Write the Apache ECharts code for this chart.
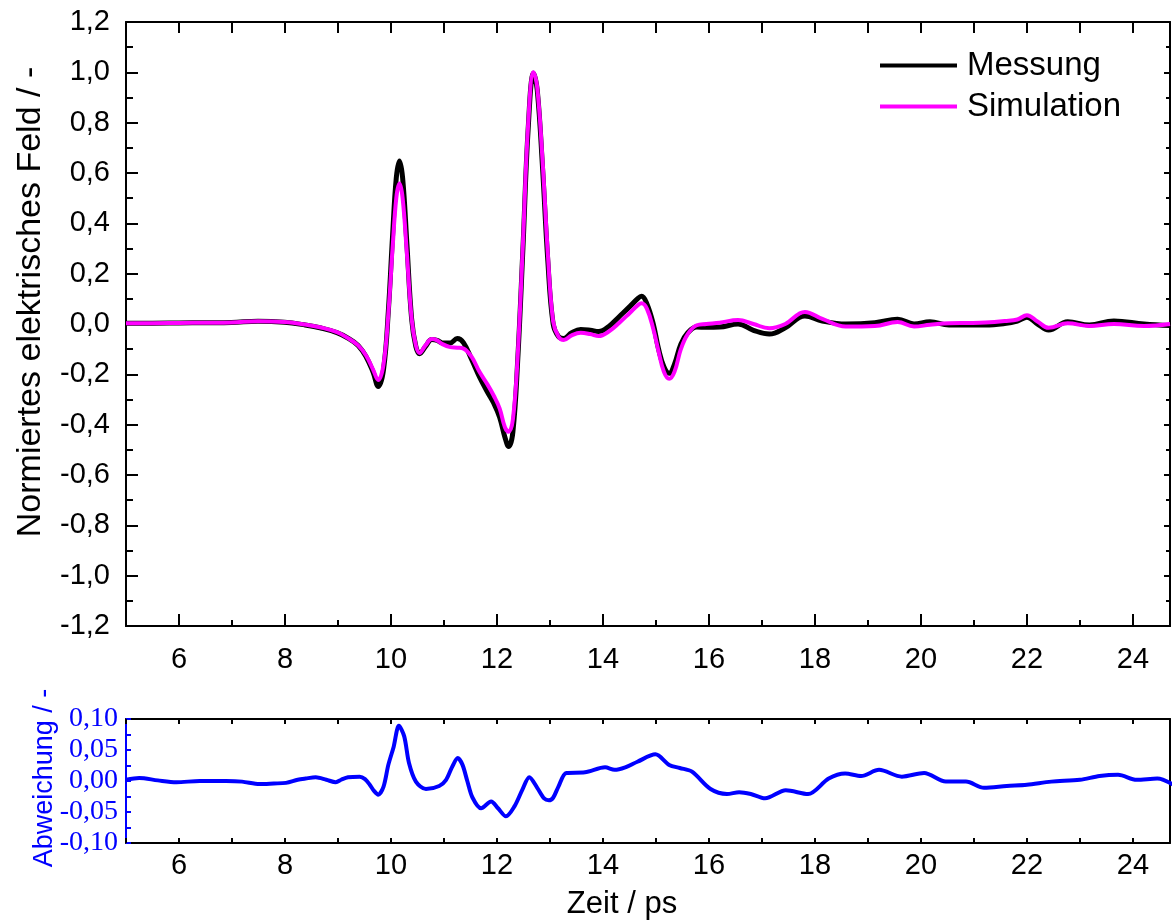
<!DOCTYPE html>
<html>
<head>
<meta charset="utf-8">
<script src="https://cdn.jsdelivr.net/npm/echarts@6/dist/echarts.min.js"></script>
<style>html,body{margin:0;padding:0;background:#fff;}#c{width:1173px;height:920px;}</style>
</head>
<body>
<div id="c"></div>
<script>
// Zeitachse (ps) für Messung und Simulation
var fieldTime = [5.0, 5.5, 6.0, 6.5, 6.99, 7.49, 7.99, 8.38, 8.68, 8.98, 9.18, 9.38, 9.53, 9.66, 9.76, 9.86, 9.95, 10.03, 10.1, 10.16, 10.22, 10.3, 10.39, 10.47, 10.54, 10.65, 10.77, 10.87, 10.97, 11.12, 11.25, 11.37, 11.52, 11.67, 11.82, 11.94, 12.05, 12.15, 12.22, 12.3, 12.39, 12.49, 12.59, 12.69, 12.76, 12.86, 12.96, 13.06, 13.16, 13.26, 13.41, 13.58, 13.76, 13.92, 14.11, 14.31, 14.51, 14.66, 14.73, 14.83, 14.95, 15.05, 15.15, 15.25, 15.35, 15.47, 15.6, 15.77, 15.95, 16.2, 16.55, 16.84, 17.14, 17.44, 17.81, 18.14, 18.58, 19.13, 19.56, 19.87, 20.17, 20.53, 20.92, 21.22, 21.58, 21.82, 22.0, 22.2, 22.41, 22.77, 23.18, 23.64, 24.21, 24.7];
var messung = [0.003, 0.003, 0.004, 0.005, 0.006, 0.011, 0.007, -0.004, -0.016, -0.034, -0.055, -0.085, -0.13, -0.19, -0.248, -0.18, 0.05, 0.35, 0.58, 0.648, 0.58, 0.32, 0.02, -0.09, -0.118, -0.09, -0.062, -0.065, -0.075, -0.075, -0.058, -0.075, -0.14, -0.21, -0.27, -0.315, -0.37, -0.45, -0.487, -0.43, -0.15, 0.3, 0.78, 0.996, 0.93, 0.62, 0.25, 0.0, -0.05, -0.058, -0.035, -0.022, -0.025, -0.03, -0.01, 0.03, 0.07, 0.102, 0.11, 0.08, 0.0, -0.1, -0.17, -0.196, -0.16, -0.08, -0.035, -0.012, -0.013, -0.012, 0.0, -0.025, -0.04, -0.015, 0.032, 0.012, 0.0, 0.005, 0.019, 0.0, 0.009, -0.004, -0.004, -0.004, 0.002, 0.012, 0.027, 0.0, -0.024, 0.009, -0.004, 0.012, 0.0, -0.006];
var simulation = [0.003, 0.003, 0.004, 0.005, 0.006, 0.011, 0.008, -0.002, -0.014, -0.032, -0.055, -0.085, -0.125, -0.18, -0.223, -0.16, 0.04, 0.3, 0.5, 0.558, 0.5, 0.28, 0.02, -0.085, -0.115, -0.085, -0.06, -0.065, -0.08, -0.092, -0.094, -0.098, -0.13, -0.19, -0.24, -0.285, -0.335, -0.41, -0.428, -0.38, -0.13, 0.32, 0.8, 1.0, 0.94, 0.65, 0.28, 0.01, -0.05, -0.064, -0.045, -0.035, -0.04, -0.048, -0.03, 0.005, 0.045, 0.075, 0.082, 0.06, -0.02, -0.11, -0.19, -0.218, -0.19, -0.1, -0.04, -0.005, 0.0, 0.005, 0.016, 0.0, -0.017, 0.0, 0.048, 0.02, -0.01, -0.008, 0.008, -0.01, -0.003, 0.003, 0.004, 0.006, 0.012, 0.018, 0.035, 0.01, -0.015, 0.003, -0.008, 0.0, -0.008, 0.0];

// Abweichung
var devTime = [5.0, 5.25, 5.6, 5.95, 6.39, 6.89, 7.19, 7.52, 7.79, 8.02, 8.24, 8.39, 8.58, 8.78, 8.96, 9.06, 9.19, 9.41, 9.51, 9.6, 9.68, 9.76, 9.86, 9.95, 10.05, 10.15, 10.25, 10.34, 10.47, 10.66, 10.91, 11.04, 11.15, 11.26, 11.35, 11.44, 11.54, 11.7, 11.89, 12.02, 12.17, 12.33, 12.48, 12.61, 12.76, 12.89, 12.98, 13.06, 13.16, 13.31, 13.66, 14.04, 14.22, 14.42, 14.65, 14.99, 15.25, 15.45, 15.68, 16.03, 16.34, 16.57, 16.79, 17.06, 17.45, 17.87, 18.26, 18.57, 18.87, 19.21, 19.64, 20.06, 20.47, 20.85, 21.19, 21.62, 22.0, 22.46, 23.0, 23.37, 23.72, 24.07, 24.46, 24.8];
var abweichung = [0.002, 0.005, 0.001, -0.002, 0.0, 0.0, -0.001, -0.005, -0.004, -0.003, 0.002, 0.004, 0.006, 0.002, -0.002, 0.002, 0.006, 0.007, 0.003, -0.006, -0.016, -0.022, -0.009, 0.026, 0.055, 0.089, 0.072, 0.029, -0.001, -0.013, -0.008, 0.002, 0.022, 0.037, 0.026, 0.0, -0.027, -0.044, -0.033, -0.044, -0.057, -0.041, -0.014, 0.006, -0.011, -0.028, -0.031, -0.027, -0.009, 0.013, 0.014, 0.022, 0.018, 0.022, 0.031, 0.043, 0.026, 0.021, 0.015, -0.013, -0.021, -0.018, -0.021, -0.028, -0.015, -0.021, 0.004, 0.012, 0.008, 0.018, 0.007, 0.013, -0.001, -0.001, -0.011, -0.008, -0.006, -0.001, 0.002, 0.008, 0.01, 0.002, 0.004, -0.008];

var evenTicks = [6, 8, 10, 12, 14, 16, 18, 20, 22, 24];
var oddTicks = [5, 7, 9, 11, 13, 15, 17, 19, 21, 23];
var allTicks = [5, 6, 7, 8, 9, 10, 11, 12, 13, 14, 15, 16, 17, 18, 19, 20, 21, 22, 23, 24];
var X_MIN = 5, X_MAX = 24.7;

function pairs(t, v) { return t.map(function (x, i) { return [x, v[i]]; }); }
var SANS = '"Liberation Sans", Arial, sans-serif';
var SERIF = '"Liberation Serif", "Times New Roman", serif';
var BLUE = '#0000ff';

function xAx(grid, pos, ticks, len, labels, margin) {
  return {
    type: 'value', gridIndex: grid, position: pos, min: X_MIN, max: X_MAX,
    axisLine: { show: true, onZero: false, lineStyle: { color: '#000', width: 2 } },
    axisTick: { show: true, inside: true, length: len, customValues: ticks, lineStyle: { color: '#000', width: 2 } },
    axisLabel: labels ? { show: true, customValues: labels, margin: margin, fontSize: 29, color: '#000', fontFamily: SANS } : { show: false },
    splitLine: { show: false }
  };
}

var chart = echarts.init(document.getElementById('c'), null, { renderer: 'canvas' });
chart.setOption({
  animation: false,
  backgroundColor: '#fff',
  grid: [
    { left: 126, top: 22, width: 1044, height: 604 },
    { left: 126, top: 719, width: 1044, height: 124 }
  ],
  legend: {
    left: 880, top: 49, orient: 'vertical', icon: 'rect', itemWidth: 77, itemHeight: 4, itemGap: 8, padding: 0,
    data: ['Messung', 'Simulation'],
    textStyle: { fontSize: 33, fontFamily: SANS, color: '#000', padding: [0, 0, 0, 5] }
  },
  xAxis: [
    xAx(0, 'bottom', evenTicks, 12, evenTicks, 19),
    xAx(0, 'bottom', oddTicks, 6, null),
    xAx(0, 'top', allTicks, 11, null),
    xAx(1, 'bottom', allTicks, 5, evenTicks, 8),
    xAx(1, 'top', allTicks, 5, null)
  ],
  yAxis: [
    {
      type: 'value', gridIndex: 0, position: 'left', min: -1.2, max: 1.2, interval: 0.2,
      axisLine: { show: true, lineStyle: { color: '#000', width: 2 } },
      axisTick: { show: true, inside: true, length: 12, lineStyle: { color: '#000', width: 2 } },
      minorTick: { show: true, splitNumber: 2, length: 7, lineStyle: { color: '#000', width: 2 } },
      axisLabel: { margin: 16, fontSize: 29, color: '#000', fontFamily: SANS,
        formatter: function (v) { if (Math.abs(v) < 1e-9) v = 0; return v.toFixed(1).replace('.', ','); } },
      splitLine: { show: false }, minorSplitLine: { show: false }
    },
    {
      type: 'value', gridIndex: 0, position: 'right', min: -1.2, max: 1.2, interval: 0.2,
      axisLine: { show: true, lineStyle: { color: '#000', width: 2 } },
      axisTick: { show: true, inside: true, length: 6, lineStyle: { color: '#000', width: 2 } },
      minorTick: { show: true, splitNumber: 2, length: 4, lineStyle: { color: '#000', width: 2 } },
      axisLabel: { show: false }, splitLine: { show: false }
    },
    {
      type: 'value', gridIndex: 1, position: 'left', min: -0.1, max: 0.1, interval: 0.05,
      axisLine: { show: true, lineStyle: { color: BLUE, width: 2 } },
      axisTick: { show: true, inside: true, length: 5, lineStyle: { color: BLUE, width: 2 } },
      minorTick: { show: true, splitNumber: 2, length: 5, lineStyle: { color: BLUE, width: 2 } },
      axisLabel: { margin: 8, fontSize: 28, color: BLUE, fontFamily: SERIF,
        formatter: function (v) { if (Math.abs(v) < 1e-9) v = 0; return v.toFixed(2).replace('.', ','); } },
      splitLine: { show: false }, minorSplitLine: { show: false }
    },
    {
      type: 'value', gridIndex: 1, position: 'right', min: -0.1, max: 0.1, interval: 0.05,
      axisLine: { show: true, lineStyle: { color: '#000', width: 2 } },
      axisTick: { show: false }, axisLabel: { show: false }, splitLine: { show: false }
    }
  ],
  series: [
    {
      name: 'Messung', type: 'line', xAxisIndex: 0, yAxisIndex: 0, data: pairs(fieldTime, messung),
      showSymbol: false, smooth: 0.4, lineStyle: { color: '#000', width: 5 }, itemStyle: { color: '#000' }, z: 2
    },
    {
      name: 'Simulation', type: 'line', xAxisIndex: 0, yAxisIndex: 0, data: pairs(fieldTime, simulation),
      showSymbol: false, smooth: 0.4, lineStyle: { color: '#ff00ff', width: 4 }, itemStyle: { color: '#ff00ff' }, z: 3
    },
    {
      name: 'Abweichung', type: 'line', xAxisIndex: 3, yAxisIndex: 2, data: pairs(devTime, abweichung),
      showSymbol: false, smooth: 0.3, lineStyle: { color: BLUE, width: 4 }, itemStyle: { color: BLUE }
    }
  ],
  graphic: [
    { type: 'text', x: 31, y: 302, rotation: Math.PI / 2,
      style: { text: 'Normiertes elektrisches Feld / -', font: '34px ' + SANS, fill: '#000', textAlign: 'center', textVerticalAlign: 'middle' } },
    { type: 'text', x: 45, y: 778, rotation: Math.PI / 2,
      style: { text: 'Abweichung / -', font: '27px ' + SANS, fill: BLUE, textAlign: 'center', textVerticalAlign: 'middle' } },
    { type: 'text', x: 622, y: 904,
      style: { text: 'Zeit / ps', font: '31px ' + SANS, fill: '#000', textAlign: 'center', textVerticalAlign: 'middle' } }
  ]
});
</script>
</body>
</html>
